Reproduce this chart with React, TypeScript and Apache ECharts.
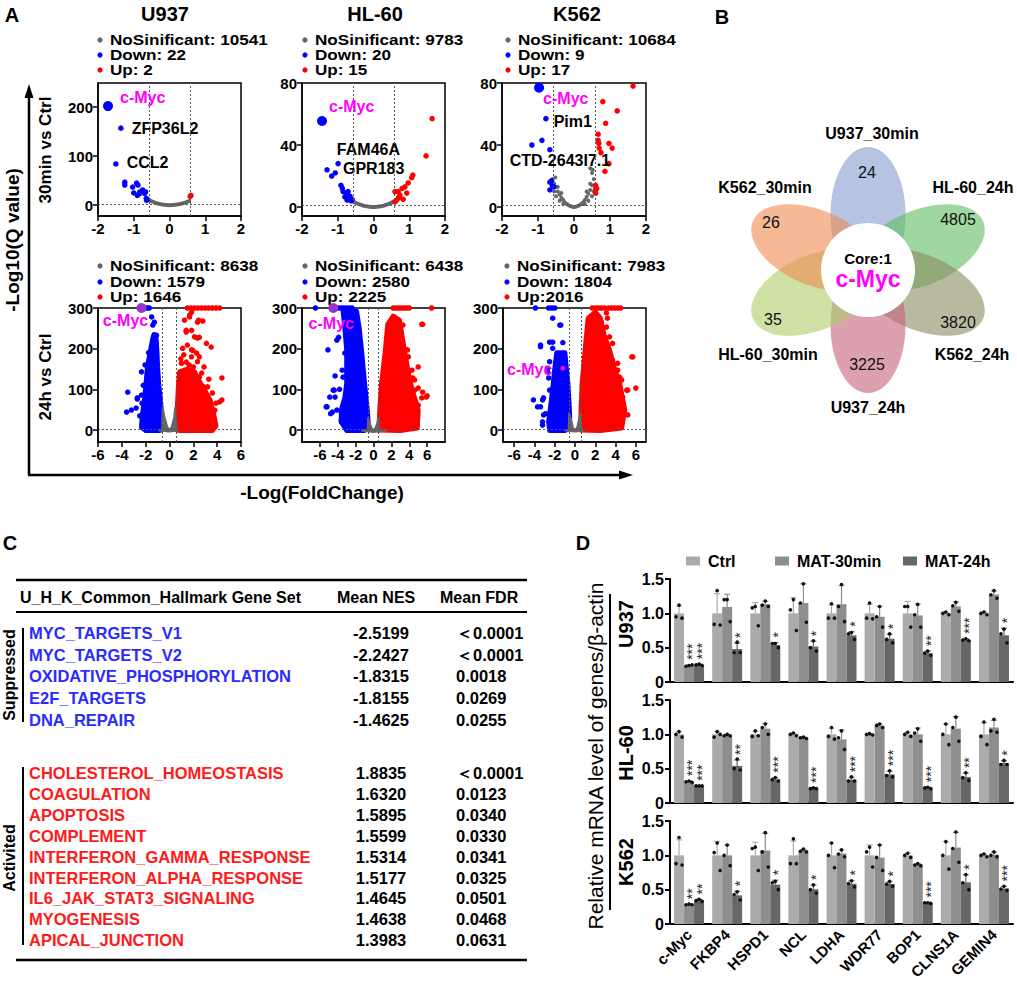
import React, { useEffect, useRef } from 'react';
import * as echarts from 'echarts';

const FONT = '"Liberation Sans", Arial, Helvetica, sans-serif';
const W = 1017;
const H = 984;

// ================= Panel A data =================
const cellLines = ['U937', 'HL-60', 'K562'];
const noSigCounts = [10541, 9783, 10684, 8638, 6438, 7983];
const downCounts = [22, 20, 9, 1579, 2580, 1804];
const upCounts = [2, 15, 17, 1646, 2225, 2016];

const topXTicks = [-2, -1, 0, 1, 2];
const bottomXTicks = [-6, -4, -2, 0, 2, 4, 6];
const u937TopYTicks = [0, 100, 200];
const topYTicks = [0, 40, 80];
const bottomYTicks = [0, 100, 200, 300];
const fcCut = 0.585;
const qCut = 1.3;

// U937 30min
const u937_30_grey = [[-0.62, 13], [-0.58, 11], [-0.55, 10], [-0.5, 8], [-0.45, 6.5], [-0.4, 5], [-0.35, 4], [-0.3, 3], [-0.25, 2.2], [-0.2, 1.5], [-0.15, 0.9], [-0.1, 0.5], [-0.05, 0.2], [0, 0], [0.05, 0.2], [0.1, 0.5], [0.15, 0.9], [0.2, 1.4], [0.25, 2], [0.3, 2.7], [0.35, 3.5], [0.4, 4.5], [0.45, 5.5], [0.5, 7], [0.55, 8.5]];
const u937_30_down = [[-1.25, 47], [-1.25, 41], [-1.03, 37], [-0.92, 45], [-0.88, 41], [-1.0, 25], [-0.9, 20], [-0.83, 27], [-0.75, 31], [-0.67, 27], [-0.64, 10], [-0.65, 14], [-0.7, 24], [-0.85, 23], [-0.62, 12]];
const u937_30_up = [[0.6, 20], [0.58, 18]];
const u937_30_myc = [[-1.72, 202]];
const u937_30_named = [['ZFP36L2', -1.36, 157], ['CCL2', -1.5, 84]];

// HL-60 30min
const hl60_30_grey = [[-0.6, 4], [-0.55, 3.3], [-0.5, 2.8], [-0.45, 2.3], [-0.4, 1.8], [-0.35, 1.4], [-0.3, 1], [-0.25, 0.7], [-0.2, 0.5], [-0.15, 0.3], [-0.1, 0.15], [-0.05, 0.05], [0, 0], [0.05, 0.05], [0.1, 0.15], [0.15, 0.3], [0.2, 0.5], [0.25, 0.7], [0.3, 1], [0.35, 1.4], [0.4, 1.8], [0.45, 2.3], [0.5, 2.8], [0.55, 3.5]];
const hl60_30_down = [[-1.3, 24], [-1.17, 20], [-0.91, 14], [-0.85, 10], [-0.87, 12], [-0.77, 9], [-0.71, 10], [-0.8, 6.5], [-0.68, 5.5], [-0.63, 4], [-0.74, 4.5], [-0.6, 5], [-0.66, 7]];
const hl60_30_up = [[1.64, 57], [1.47, 33], [1.1, 20.6], [1.07, 19], [0.97, 15.5], [0.88, 13], [0.8, 12], [0.69, 10], [0.6, 10], [0.93, 9], [0.74, 7.7], [0.65, 4.5], [0.6, 3.3], [0.83, 5], [0.7, 6]];
const hl60_30_myc = [[-1.44, 55.5]];
const hl60_30_named = [['FAM46A', -0.99, 28], ['GPR183', -1.07, 22]];

// K562 30min
const k562_30_grey = [[-0.6, 18], [-0.55, 15], [-0.5, 13], [-0.45, 10], [-0.4, 8], [-0.35, 6], [-0.3, 4.5], [-0.25, 3], [-0.2, 2], [-0.15, 1.2], [-0.1, 0.6], [-0.05, 0.2], [0, 0], [0.05, 0.2], [0.1, 0.6], [0.15, 1.2], [0.2, 2], [0.25, 3], [0.3, 4.5], [0.35, 6.5], [0.4, 8.5], [0.45, 11], [0.5, 14], [0.55, 18], [0.5, 22], [0.45, 25], [-0.55, 10], [-0.5, 7], [-0.4, 4], [0.4, 4], [0.5, 7], [0.55, 10], [-0.45, 13], [0.45, 15], [-0.3, 2], [0.3, 2], [-0.6, 13], [0.58, 12], [-0.52, 19], [0.52, 24], [-0.35, 9], [0.35, 10]];
const k562_30_down = [[-1.17, 40], [-0.89, 43], [-0.67, 16], [-0.6, 14], [-0.67, 11], [-0.56, 13], [-0.62, 17]];
const k562_30_up = [[1.64, 78], [0.8, 68], [1.2, 62], [0.88, 54], [0.67, 47], [0.67, 43], [0.69, 41], [0.7, 38], [0.97, 41], [1.06, 38], [0.75, 35], [0.97, 28], [0.86, 23], [0.6, 14], [0.6, 11], [0.63, 12], [0.6, 9]];
const k562_30_myc = [[-0.97, 77]];
const k562_30_named = [['Pim1', -0.78, 57], ['CTD-2643I7.1', -0.67, 37]];

// U937 24h
const u937_24_greyEnv = [[-0.85, -1], [-0.62, 0], [-0.58, 54], [-0.42, 32], [-0.2, 8], [0, 0], [0.2, 8], [0.4, 32], [0.47, 54], [0.62, 0], [0.67, -1], [0, -4]];
const u937_24_downEnv = [[-1.3, 235], [-1.15, 233], [-1.05, 190], [-1.0, 155], [-0.9, 110], [-0.76, 74], [-0.65, 30], [-0.6, 5], [-0.8, -1], [-2.0, -1], [-2.35, 7], [-2.3, 30], [-2.1, 74], [-1.95, 120], [-1.85, 155], [-1.6, 195], [-1.4, 225]];
const u937_24_down = [[-3.6, 44], [-3.2, 49], [-3.5, 93], [-2.7, 76], [-2.35, 86], [-2.3, 66], [-2.35, 143], [-2.0, 49], [-1.7, 300], [-1.5, 278], [-1.4, 258], [-1.27, 265], [-1.2, 228], [-1.1, 233], [-1.9, 300], [-2.5, 35], [-2.8, 54], [-2.7, 79], [-2.35, 37], [-1.26, 226], [-1.1, 213], [-2.2, 110], [-2.05, 160], [-1.75, 190]];
const u937_24_upEnv = [[0.6, 0], [0.65, 50], [0.75, 110], [0.85, 143], [1.5, 150], [2.1, 143], [2.5, 120], [3.0, 95], [3.4, 74], [3.7, 40], [3.9, 10], [3.6, -1], [0.8, -1]];
const u937_24_up = [[1.5, 300], [1.8, 300], [2.1, 300], [2.4, 300], [2.7, 300], [3.0, 300], [3.3, 300], [3.6, 300], [3.9, 300], [4.2, 300], [1.68, 278], [1.85, 290], [2.44, 270], [2.8, 268], [1.4, 245], [1.85, 245], [2.5, 228], [2.36, 226], [3.1, 213], [1.1, 201], [1.5, 209], [1.95, 196], [2.27, 189], [1.85, 180], [2.5, 180], [1.0, 164], [1.4, 167], [2.0, 155], [4.4, 128], [4.2, 69], [3.9, 66], [3.6, 91], [3.36, 66], [3.2, 44], [3.1, 20], [2.77, 91], [2.5, 130], [2.86, 106], [1.26, 270], [1.7, 283], [2.35, 265], [1.4, 241], [2.1, 229], [1.85, 197], [2.35, 168], [3.5, 204], [2.9, 155], [3.2, 106], [4.4, 74], [3.8, 49], [3.4, 37], [1.2, 185], [0.95, 175], [1.65, 160], [2.7, 140], [3.3, 125]];
const u937_24_myc = [[-2.35, 300]];

// HL-60 24h
const hl60_24_greyEnv = [[-1.3, -1], [-0.65, 0], [-0.6, 30], [-0.45, 18], [-0.2, 4], [0, 0], [0.2, 4], [0.45, 18], [0.55, 30], [0.62, 0], [1.4, -1], [0, -5]];
const hl60_24_downEnv = [[-3.4, 292], [-1.9, 292], [-1.6, 250], [-1.35, 197], [-1.0, 115], [-0.7, 49], [-0.55, 5], [-1.0, -1], [-3.0, -1], [-3.6, 20], [-3.6, 49], [-3.2, 80], [-3.0, 115], [-3.0, 197], [-3.2, 250]];
const hl60_24_down = [[-6.5, 300], [-4.2, 300], [-3.9, 300], [-3.6, 300], [-3.3, 300], [-3.0, 300], [-2.7, 300], [-2.4, 300], [-5.1, 197], [-4.1, 221], [-4.3, 133], [-3.4, 130], [-4.5, 98], [-5.2, 57], [-4.3, 81], [-3.6, 20], [-4.1, 49], [-3.0, 37], [-3.9, 228], [-4.8, 40], [-3.2, 189], [-3.5, 147], [-4.4, 98], [-4.9, 81], [-5.3, 57], [-4.6, 44], [-3.6, 25], [-2.7, 270], [-2.3, 245], [-2.9, 221], [-3.8, 100], [-3.4, 60]];
const hl60_24_upEnv = [[0.6, 0], [0.7, 49], [0.9, 115], [1.3, 190], [1.6, 260], [2.2, 280], [2.9, 270], [3.2, 230], [3.5, 190], [3.9, 140], [4.3, 100], [5.0, 49], [4.9, 5], [3.0, -1]];
const hl60_24_up = [[2.2, 300], [2.5, 300], [2.8, 300], [3.1, 300], [3.4, 300], [3.7, 300], [4.0, 300], [6.5, 300], [5.5, 260], [5.0, 155], [6.0, 84], [4.6, 98], [5.4, 79], [5.0, 61], [4.4, 128], [3.9, 180], [4.2, 40], [2.6, 270], [3.3, 258], [1.6, 245], [2.9, 238], [2.1, 221], [3.3, 205], [3.8, 197], [1.8, 189], [2.9, 177], [3.7, 155], [4.3, 147], [4.6, 123], [5.0, 103], [5.5, 93], [5.9, 81], [5.4, 260]];
const hl60_24_myc = [[-4.5, 300]];

// K562 24h
const k562_24_greyEnv = [[-0.9, -1], [-0.62, 0], [-0.58, 42], [-0.4, 25], [-0.2, 5], [0, 0], [0.2, 5], [0.4, 25], [0.55, 42], [0.62, 0], [0.9, -1], [0, -4]];
const k562_24_downEnv = [[-1.8, 190], [-1.0, 190], [-0.85, 150], [-0.7, 115], [-0.55, 49], [-0.5, 5], [-1.0, -1], [-2.5, -1], [-2.6, 20], [-2.45, 49], [-2.2, 100], [-2.0, 150]];
const k562_24_down = [[-3.9, 300], [-2.6, 300], [-2.3, 300], [-2.0, 300], [-2.2, 275], [-1.4, 258], [-3.4, 205], [-2.5, 216], [-2.2, 201], [-2.6, 128], [-3.4, 57], [-4.1, 74], [-3.1, 79], [-3.2, 20], [-2.5, 98], [-2.7, 152], [-2.9, 40], [-3.4, 209], [-2.2, 216], [-1.5, 258], [-2.5, 168], [-2.7, 143], [-3.2, 74], [-3.7, 57], [-3.1, 37], [-3.2, 12], [-1.2, 215]];
const k562_24_upEnv = [[0.55, 0], [0.6, 49], [0.7, 115], [1.0, 197], [1.3, 275], [2.0, 290], [2.5, 275], [2.9, 230], [3.4, 197], [3.9, 150], [4.4, 115], [4.9, 49], [4.6, 5], [2.5, -1]];
const k562_24_up = [[1.7, 300], [2.0, 300], [2.3, 300], [2.6, 300], [2.9, 300], [3.3, 300], [3.6, 300], [3.9, 300], [4.2, 300], [4.5, 300], [5.7, 180], [5.1, 98], [4.4, 130], [4.2, 69], [3.9, 148], [4.2, 164], [3.2, 275], [3.1, 288], [2.6, 265], [5.2, 37], [4.7, 44], [4.4, 79], [3.7, 213], [2.5, 270], [3.1, 253], [2.1, 238], [3.4, 229], [2.8, 205], [3.7, 172], [4.2, 147], [4.6, 123], [4.7, 81], [4.2, 57], [5.6, 180], [6.0, 103], [5.2, 98]];
const k562_24_myc = [[-1.2, 152]];

// ================= Panel B data =================
const vennSets = ['U937_30min', 'HL-60_24h', 'K562_24h', 'U937_24h', 'HL-60_30min', 'K562_30min'];
const vennCounts = [24, 4805, 3820, 3225, 35, 26];
const vennCore = 1;
const vennCoreGene = 'c-Myc';

// ================= Panel C data =================
const tableHeader = ['U_H_K_Common_Hallmark Gene Set', 'Mean NES', 'Mean FDR'];
const suppressedSets = ['MYC_TARGETS_V1', 'MYC_TARGETS_V2', 'OXIDATIVE_PHOSPHORYLATION', 'E2F_TARGETS', 'DNA_REPAIR'];
const suppressedNES = ['-2.5199', '-2.2427', '-1.8315', '-1.8155', '-1.4625'];
const suppressedFDR = ['＜0.0001', '＜0.0001', '0.0018', '0.0269', '0.0255'];
const activatedSets = ['CHOLESTEROL_HOMEOSTASIS', 'COAGULATION', 'APOPTOSIS', 'COMPLEMENT', 'INTERFERON_GAMMA_RESPONSE', 'INTERFERON_ALPHA_RESPONSE', 'IL6_JAK_STAT3_SIGNALING', 'MYOGENESIS', 'APICAL_JUNCTION'];
const activatedNES = ['1.8835', '1.6320', '1.5895', '1.5599', '1.5314', '1.5177', '1.4645', '1.4638', '1.3983'];
const activatedFDR = ['＜0.0001', '0.0123', '0.0340', '0.0330', '0.0341', '0.0325', '0.0501', '0.0468', '0.0631'];

// ================= Panel D data =================
const genes = ['c-Myc', 'FKBP4', 'HSPD1', 'NCL', 'LDHA', 'WDR77', 'BOP1', 'CLNS1A', 'GEMIN4'];
const groups = ['Ctrl', 'MAT-30min', 'MAT-24h'];
const dCells = ['U937', 'HL-60', 'K562'];
const dYTicks = [0, 0.5, 1.0, 1.5];
// replicates per gene: [Ctrl, MAT-30min, MAT-24h]
const u937Reps = [
  [[1.12, 0.95, 0.93], [0.24, 0.23, 0.25], [0.26, 0.25, 0.24]],
  [[1.33, 0.84, 0.83], [1.2, 1.2, 0.88], [0.58, 0.43, 0.43]],
  [[1.1, 1.08, 0.82], [1.18, 1.12, 1.1], [0.56, 0.56, 0.5]],
  [[1.2, 1.05, 0.75], [1.43, 1.15, 0.87], [0.6, 0.5, 0.45]],
  [[1.14, 0.93, 0.93], [1.42, 1.1, 0.88], [0.72, 0.7, 0.62]],
  [[1.15, 0.93, 0.92], [1.1, 0.95, 0.8], [0.7, 0.62, 0.57]],
  [[1.1, 1.1, 0.8], [1.13, 0.98, 0.8], [0.45, 0.42, 0.39]],
  [[1.02, 1.0, 0.98], [1.16, 1.11, 1.03], [0.63, 0.61, 0.6]],
  [[1.02, 1.0, 0.98], [1.33, 1.27, 1.22], [0.77, 0.7, 0.57]],
];
const hl60Reps = [
  [[1.04, 1.0, 0.96], [0.32, 0.31, 0.3], [0.25, 0.25, 0.25]],
  [[1.04, 0.96, 1.0], [1.0, 0.98, 0.98], [0.64, 0.5, 0.48]],
  [[1.05, 0.97, 0.98], [1.15, 1.1, 1.0], [0.37, 0.34, 0.32]],
  [[1.02, 1.0, 0.98], [0.96, 0.95, 0.94], [0.22, 0.21, 0.21]],
  [[1.1, 0.97, 0.93], [1.05, 0.95, 0.78], [0.38, 0.32, 0.32]],
  [[1.01, 1.0, 0.99], [1.15, 1.13, 1.1], [0.47, 0.4, 0.38]],
  [[1.03, 1.0, 0.97], [1.08, 1.02, 0.9], [0.23, 0.22, 0.21]],
  [[1.15, 1.0, 0.85], [1.25, 1.1, 0.9], [0.44, 0.37, 0.33]],
  [[1.18, 0.97, 0.85], [1.22, 1.05, 1.03], [0.62, 0.56, 0.56]],
];
const k562Reps = [
  [[1.26, 0.88, 0.86], [0.29, 0.28, 0.28], [0.36, 0.34, 0.33]],
  [[1.18, 1.04, 0.78], [1.15, 1.0, 0.85], [0.47, 0.43, 0.35]],
  [[1.12, 1.1, 0.78], [1.33, 1.05, 0.83], [0.62, 0.6, 0.5]],
  [[1.24, 0.88, 0.88], [1.09, 1.06, 1.05], [0.57, 0.5, 0.45]],
  [[1.18, 1.0, 0.82], [1.08, 1.02, 0.98], [0.63, 0.59, 0.54]],
  [[1.12, 1.05, 0.83], [1.15, 0.97, 0.78], [0.62, 0.58, 0.55]],
  [[1.03, 1.0, 0.97], [0.88, 0.86, 0.85], [0.31, 0.31, 0.3]],
  [[1.2, 1.0, 0.8], [1.34, 1.1, 0.9], [0.72, 0.6, 0.5]],
  [[1.02, 1.0, 0.98], [1.05, 1.0, 0.98], [0.55, 0.51, 0.49]],
];
const u937Sig = [['', '***', '***'], ['', '', '*'], ['', '', '*'], ['', '', '*'], ['', '', '*'], ['', '', '*'], ['', '', '**'], ['', '', '***'], ['', '', '*']];
const hl60Sig = [['', '***', '***'], ['', '', '**'], ['', '', '***'], ['', '', '***'], ['', '', '***'], ['', '', '***'], ['', '', '***'], ['', '', '**'], ['', '', '*']];
const k562Sig = [['', '**', '**'], ['', '', '*'], ['', '', '*'], ['', '', '*'], ['', '', '*'], ['', '', '*'], ['', '', '***'], ['', '', '*'], ['', '', '***']];

// ================= styles / layout =================
const GREY = '#666666';
const BLUE = '#0000ff';
const RED = '#ff0000';
const MAGENTA = '#ff00ff';
const PURPLE = '#9933cc';
const BAR_COLORS = ['#ababab', '#8e8e8e', '#676767'];
const BAR_W = 10;
const DOT_DX = [0, -3, 3];

const A_LAYOUT = [
  { left: 98, top: 83, width: 143, height: 133, xMin: -2, xMax: 2, xTicks: topXTicks, yMin: -22, yMax: 249, yTicks: u937TopYTicks },
  { left: 302, top: 83, width: 143, height: 133, xMin: -2, xMax: 2, xTicks: topXTicks, yMin: -5.8, yMax: 80, yTicks: topYTicks },
  { left: 502, top: 83, width: 144, height: 133, xMin: -2, xMax: 2, xTicks: topXTicks, yMin: -5.8, yMax: 80, yTicks: topYTicks },
  { left: 98, top: 308, width: 143, height: 134, xMin: -6, xMax: 6, xTicks: bottomXTicks, yMin: -29.5, yMax: 300, yTicks: bottomYTicks },
  { left: 302, top: 308, width: 143, height: 134, xMin: -8, xMax: 8, xTicks: bottomXTicks, yMin: -29.5, yMax: 300, yTicks: bottomYTicks },
  { left: 503, top: 308, width: 143, height: 134, xMin: -7.1, xMax: 7.0, xTicks: bottomXTicks, yMin: -29.5, yMax: 300, yTicks: bottomYTicks },
];

const LABEL_POS: Record<string, { position: string; offset: number[] }> = {
  '0:c-Myc': { position: 'right', offset: [2, -9] },
  '0:ZFP36L2': { position: 'right', offset: [3, 0] },
  '0:CCL2': { position: 'right', offset: [3, -1] },
  '1:c-Myc': { position: 'right', offset: [-3, -14] },
  '1:FAM46A': { position: 'right', offset: [-9, -14] },
  '1:GPR183': { position: 'right', offset: [0, -4] },
  '2:c-Myc': { position: 'right', offset: [-6, 11] },
  '2:Pim1': { position: 'right', offset: [0, 3] },
  '2:CTD-2643I7.1': { position: 'bottom', offset: [10, -5] },
  '3:c-Myc': { position: 'bottom', offset: [-16, -6] },
  '4:c-Myc': { position: 'bottom', offset: [-2, -3] },
  '5:c-Myc': { position: 'left', offset: [-3, 1] },
};

const mean = (a: number[]) => a.reduce((s, v) => s + v, 0) / a.length;
const sd = (a: number[]) => {
  const m = mean(a);
  return Math.sqrt(a.reduce((s, v) => s + (v - m) * (v - m), 0) / (a.length - 1));
};

function txt(x: number, y: number, text: string, opts: any = {}) {
  const { size = 15, weight = 'bold', color = '#000', align = 'left', valign = 'middle', rotation = 0, scaleX = 1 } = opts;
  return {
    type: 'text',
    x,
    y,
    rotation,
    scaleX,
    silent: true,
    style: {
      text,
      fill: color,
      font: `${weight} ${size}px ${FONT}`,
      align,
      textAlign: align,
      verticalAlign: valign,
      textVerticalAlign: valign,
    },
  };
}

function polygonSeries(idx: number, pts: number[][], color: string, z = 2, edge = 4) {
  return {
    type: 'custom',
    xAxisIndex: idx,
    yAxisIndex: idx,
    data: pts,
    silent: true,
    clip: true,
    z,
    renderItem: (params: any, api: any) => {
      if (params.dataIndex !== 0) return null;
      return {
        type: 'polygon',
        shape: { points: pts.map((p) => api.coord(p)) },
        style: { fill: color, stroke: color, lineWidth: edge, lineJoin: 'round' },
      };
    },
  };
}

function scatterSeries(idx: number, data: any[], color: string, size: number, z = 3, extra: any = {}) {
  return {
    type: 'scatter',
    xAxisIndex: idx,
    yAxisIndex: idx,
    data,
    symbolSize: size,
    itemStyle: { color, opacity: 1 },
    silent: true,
    clip: true,
    z,
    ...extra,
  };
}

function labelItem(idx: number, name: string, x: number, y: number, color: string) {
  const p = LABEL_POS[`${idx}:${name}`] || { position: 'right', offset: [0, 0] };
  return {
    value: [x, y],
    label: {
      show: true,
      formatter: name,
      position: p.position,
      offset: p.offset,
      color,
      fontWeight: 'bold',
      fontSize: 16,
      fontFamily: FONT,
    },
  };
}

function volcanoSeries(idx: number, v: any) {
  const out: any[] = [];
  const dash = {
    silent: true,
    symbol: ['none', 'none'],
    label: { show: false },
    lineStyle: { type: [2, 2], color: '#555', width: 1 },
    data: [{ xAxis: -fcCut }, { xAxis: fcCut }, { yAxis: qCut }],
  };
  if (v.downEnv) out.push(polygonSeries(idx, v.downEnv, BLUE, 2, 5));
  if (v.upEnv) out.push(polygonSeries(idx, v.upEnv, RED, 2, 5));
  if (v.greyEnv) out.push(polygonSeries(idx, v.greyEnv, GREY, 2, 2));
  if (v.grey) out.push(scatterSeries(idx, v.grey, GREY, 4, 2));
  out.push(scatterSeries(idx, v.down, BLUE, 5.5, 3, { markLine: dash }));
  out.push(scatterSeries(idx, v.up, RED, 5.5, 3));
  if (v.named && v.named.length) {
    out.push(scatterSeries(idx, v.named.map((n: any) => labelItem(idx, n[0], n[1], n[2], '#000')), BLUE, 5.5, 4));
  }
  out.push(scatterSeries(idx, v.myc.map((p: number[]) => labelItem(idx, 'c-Myc', p[0], p[1], MAGENTA)), v.mycColor, v.mycSize, 5));
  return out;
}

function barExtras(idx: number, reps: number[][][], sig: string[][]) {
  const data: any[] = [];
  reps.forEach((gene, k) =>
    gene.forEach((r, g) => {
      data.push([k, mean(r), g, sd(r), r[0], r[1], r[2]]);
    })
  );
  return {
    type: 'custom',
    xAxisIndex: idx,
    yAxisIndex: idx,
    data,
    encode: { x: 0, y: 1 },
    silent: true,
    z: 5,
    clip: false,
    renderItem: (params: any, api: any) => {
      const k = api.value(0);
      const m = api.value(1);
      const g = api.value(2);
      const s = api.value(3);
      const base = api.coord([k, m]);
      const cx = base[0] + (g - 1) * BAR_W;
      const yTop = api.coord([k, m + s])[1];
      const col = BAR_COLORS[g];
      const children: any[] = [
        { type: 'line', shape: { x1: cx, y1: base[1], x2: cx, y2: yTop }, style: { stroke: col, lineWidth: 1.2 } },
        { type: 'line', shape: { x1: cx - 3, y1: yTop, x2: cx + 3, y2: yTop }, style: { stroke: col, lineWidth: 1.2 } },
      ];
      [4, 5, 6].forEach((d, j) => {
        const p = api.coord([k, api.value(d)]);
        children.push({ type: 'circle', shape: { cx: cx + DOT_DX[j], cy: p[1], r: 1.8 }, style: { fill: '#111' } });
      });
      const star = sig[k][g];
      if (star) {
        children.push({
          type: 'text',
          x: cx + 3,
          y: yTop - 5,
          rotation: Math.PI / 2,
          style: {
            text: star,
            fill: '#222',
            font: `14px ${FONT}`,
            align: 'left',
            textAlign: 'left',
            verticalAlign: 'middle',
            textVerticalAlign: 'middle',
          },
        });
      }
      return { type: 'group', children };
    },
  };
}

function buildOption() {
  const grid: any[] = [];
  const xAxis: any[] = [];
  const yAxis: any[] = [];
  const series: any[] = [];
  const graphic: any[] = [];
  const axisFont = { color: '#000', fontWeight: 'bold', fontSize: 15, fontFamily: FONT };

  // ----- Panel A grids -----
  A_LAYOUT.forEach((g, i) => {
    grid.push({ left: g.left, top: g.top, width: g.width, height: g.height, show: true, borderColor: '#000', borderWidth: 1.5, backgroundColor: 'transparent' });
    xAxis.push({
      gridIndex: i,
      type: 'value',
      min: g.xMin,
      max: g.xMax,
      axisLine: { show: true, onZero: false, lineStyle: { color: '#000', width: 1.5 } },
      axisTick: { show: true, length: 5, customValues: g.xTicks, lineStyle: { color: '#000', width: 1.5 } },
      axisLabel: { ...axisFont, margin: 5, customValues: g.xTicks },
      splitLine: { show: false },
    });
    yAxis.push({
      gridIndex: i,
      type: 'value',
      min: g.yMin,
      max: g.yMax,
      axisLine: { show: true, onZero: false, lineStyle: { color: '#000', width: 1.5 } },
      axisTick: { show: true, length: 5, customValues: g.yTicks, lineStyle: { color: '#000', width: 1.5 } },
      axisLabel: { ...axisFont, margin: 5, customValues: g.yTicks },
      splitLine: { show: false },
    });
  });

  const vsets = [
    { grey: u937_30_grey, down: u937_30_down, up: u937_30_up, myc: u937_30_myc, named: u937_30_named, mycColor: BLUE, mycSize: 10 },
    { grey: hl60_30_grey, down: hl60_30_down, up: hl60_30_up, myc: hl60_30_myc, named: hl60_30_named, mycColor: BLUE, mycSize: 10 },
    { grey: k562_30_grey, down: k562_30_down, up: k562_30_up, myc: k562_30_myc, named: k562_30_named, mycColor: BLUE, mycSize: 10 },
    { greyEnv: u937_24_greyEnv, downEnv: u937_24_downEnv, down: u937_24_down, upEnv: u937_24_upEnv, up: u937_24_up, myc: u937_24_myc, named: [], mycColor: PURPLE, mycSize: 10 },
    { greyEnv: hl60_24_greyEnv, downEnv: hl60_24_downEnv, down: hl60_24_down, upEnv: hl60_24_upEnv, up: hl60_24_up, myc: hl60_24_myc, named: [], mycColor: PURPLE, mycSize: 10 },
    { greyEnv: k562_24_greyEnv, downEnv: k562_24_downEnv, down: k562_24_down, upEnv: k562_24_upEnv, up: k562_24_up, myc: k562_24_myc, named: [], mycColor: MAGENTA, mycSize: 5 },
  ];
  vsets.forEach((v, i) => series.push(...volcanoSeries(i, v)));

  // ----- Panel D grids -----
  const dTops = [579, 700, 821];
  const dReps = [u937Reps, hl60Reps, k562Reps];
  const dSig = [u937Sig, hl60Sig, k562Sig];
  dTops.forEach((top, j) => {
    const idx = 6 + j;
    grid.push({ left: 670, top, width: 343, height: 103 });
    xAxis.push({
      gridIndex: idx,
      type: 'category',
      data: genes,
      axisLine: { lineStyle: { color: '#000', width: 2 } },
      axisTick: { alignWithLabel: true, length: 5, lineStyle: { color: '#000', width: 2 } },
      axisLabel: j === 2 ? { rotate: 45, interval: 0, margin: 8, color: '#000', fontWeight: 'bold', fontSize: 15, fontFamily: FONT } : { show: false },
    });
    yAxis.push({
      gridIndex: idx,
      type: 'value',
      min: 0,
      max: 1.5,
      interval: 0.5,
      axisLine: { show: true, lineStyle: { color: '#000', width: 2 } },
      axisTick: { show: true, length: 5, lineStyle: { color: '#000', width: 2 } },
      axisLabel: {
        color: '#000',
        fontWeight: 'bold',
        fontSize: 16,
        fontFamily: FONT,
        margin: 6,
        customValues: dYTicks,
        formatter: (v: number) => (v === 0 ? '0' : v.toFixed(1)),
      },
      splitLine: { show: false },
    });
    groups.forEach((gname, g) => {
      series.push({
        type: 'bar',
        name: gname,
        xAxisIndex: idx,
        yAxisIndex: idx,
        data: dReps[j].map((gene) => mean(gene[g])),
        barWidth: BAR_W,
        barGap: '0%',
        itemStyle: { color: BAR_COLORS[g] },
        silent: true,
        z: 2,
      });
    });
    series.push(barExtras(idx, dReps[j], dSig[j]));
  });

  const legendX = [686, 775, 903];
  const legend = groups.map((gname, g) => ({
    data: [gname],
    left: legendX[g],
    top: 553,
    padding: 0,
    itemWidth: 14,
    itemHeight: 9,
    icon: 'rect',
    selectedMode: false,
    textStyle: { color: '#000', fontWeight: 'bold', fontSize: 16, fontFamily: FONT, padding: [0, 0, 0, 3] },
  }));

  // ----- Panel A graphics -----
  graphic.push(txt(12, 15, 'A', { size: 20, align: 'center' }));
  const titleX = [165, 375, 577];
  cellLines.forEach((c, i) => graphic.push(txt(titleX[i], 14, c, { size: 20, align: 'center' })));
  const legDotX = [100, 305, 508, 100, 305, 507];
  A_LAYOUT.forEach((g, i) => {
    const ys = i < 3 ? [39, 54, 69] : [265, 281, 296];
    const items: [string, string][] = [
      [GREY, `NoSinificant: ${noSigCounts[i]}`],
      [BLUE, `Down: ${downCounts[i]}`],
      [RED, i === 5 ? `Up:${upCounts[i]}` : `Up: ${upCounts[i]}`],
    ];
    items.forEach(([col, t], r) => {
      graphic.push({ type: 'circle', silent: true, shape: { cx: legDotX[i], cy: ys[r] + 1, r: 2.6 }, style: { fill: col } });
      graphic.push(txt(legDotX[i] + 10, ys[r], t, { size: 15, scaleX: 1.14 }));
    });
  });
  // axis arrows
  graphic.push({ type: 'line', silent: true, shape: { x1: 29, y1: 475, x2: 29, y2: 95 }, style: { stroke: '#000', lineWidth: 2.5 } });
  graphic.push({ type: 'polygon', silent: true, shape: { points: [[29, 84], [24.5, 98], [33.5, 98]] }, style: { fill: '#000' } });
  graphic.push({ type: 'line', silent: true, shape: { x1: 28, y1: 475, x2: 620, y2: 475 }, style: { stroke: '#000', lineWidth: 2.5 } });
  graphic.push({ type: 'polygon', silent: true, shape: { points: [[633, 475], [619, 470.5], [619, 479.5]] }, style: { fill: '#000' } });
  graphic.push(txt(12, 240, '-Log10(Q value)', { size: 19, align: 'center', rotation: Math.PI / 2 }));
  graphic.push(txt(322, 492, '-Log(FoldChange)', { size: 19, align: 'center' }));
  graphic.push(txt(45, 150, '30min vs Ctrl', { size: 17, align: 'center', rotation: Math.PI / 2 }));
  graphic.push(txt(45, 377, '24h vs Ctrl', { size: 17, align: 'center', rotation: Math.PI / 2 }));

  // ----- Panel B (Venn flower) -----
  graphic.push(txt(722, 17, 'B', { size: 20, align: 'center' }));
  const cx = 868;
  const cy = 270;
  const petalAngles = [90, 23, -23, -90, 203, 157];
  const petalColors = ['rgba(135,155,208,0.6)', 'rgba(97,188,97,0.6)', 'rgba(138,138,97,0.6)', 'rgba(197,97,122,0.6)', 'rgba(172,205,105,0.6)', 'rgba(238,138,80,0.6)'];
  petalAngles.forEach((ang, i) => {
    const vertical = Math.abs(ang) === 90;
    const d = vertical ? 55 : 57;
    const a = vertical ? 68 : 68;
    const b = 37.5;
    const rad = (ang * Math.PI) / 180;
    graphic.push({
      type: 'ellipse',
      silent: true,
      x: cx + d * Math.cos(rad),
      y: cy - d * Math.sin(rad),
      rotation: rad,
      shape: { cx: 0, cy: 0, rx: a, ry: b },
      style: { fill: petalColors[i] },
    });
  });
  graphic.push({ type: 'circle', silent: true, shape: { cx, cy, r: 47 }, style: { fill: '#fff' } });
  const countPos = [[867, 172], [958, 219], [958, 322], [867, 364], [773, 319], [771, 222]];
  const labelPos = [[872, 133], [973, 187], [972, 354], [868, 407], [768, 354], [765, 187]];
  vennSets.forEach((s, i) => {
    graphic.push(txt(countPos[i][0], countPos[i][1], String(vennCounts[i]), { size: 16, weight: 'normal', align: 'center', color: '#111' }));
    graphic.push(txt(labelPos[i][0], labelPos[i][1], s, { size: 16, align: 'center' }));
  });
  graphic.push(txt(cx, 258, `Core:${vennCore}`, { size: 15, align: 'center' }));
  graphic.push(txt(cx, 279, vennCoreGene, { size: 23, align: 'center', color: MAGENTA }));

  // ----- Panel C (table) -----
  graphic.push(txt(10, 543, 'C', { size: 20, align: 'center' }));
  const tL = 16;
  const tR = 527;
  graphic.push({ type: 'line', silent: true, shape: { x1: tL, y1: 580, x2: tR, y2: 580 }, style: { stroke: '#000', lineWidth: 2.5 } });
  graphic.push({ type: 'line', silent: true, shape: { x1: tL, y1: 612, x2: tR, y2: 612 }, style: { stroke: '#000', lineWidth: 2 } });
  graphic.push({ type: 'line', silent: true, shape: { x1: tL, y1: 960, x2: tR, y2: 960 }, style: { stroke: '#000', lineWidth: 2.5 } });
  graphic.push(txt(20, 597, tableHeader[0], { size: 16 }));
  graphic.push(txt(337, 597, tableHeader[1], { size: 16 }));
  graphic.push(txt(440, 597, tableHeader[2], { size: 16 }));
  const rowColBlue = '#2b2bff';
  const rowColRed = '#ff1a1a';
  suppressedSets.forEach((s, r) => {
    const y = 633 + r * 21.7;
    graphic.push(txt(29, y, s, { size: 16.5, color: rowColBlue }));
    graphic.push(txt(381, y, suppressedNES[r], { size: 16.5, align: 'center' }));
    graphic.push(txt(456, y, suppressedFDR[r], { size: 16.5 }));
  });
  activatedSets.forEach((s, r) => {
    const y = 773 + r * 20.9;
    graphic.push(txt(29, y, s, { size: 16.5, color: rowColRed }));
    graphic.push(txt(381, y, activatedNES[r], { size: 16.5, align: 'center' }));
    graphic.push(txt(456, y, activatedFDR[r], { size: 16.5 }));
  });
  graphic.push({ type: 'line', silent: true, shape: { x1: 23, y1: 628, x2: 23, y2: 722 }, style: { stroke: '#000', lineWidth: 2 } });
  graphic.push({ type: 'line', silent: true, shape: { x1: 23, y1: 767, x2: 23, y2: 945 }, style: { stroke: '#000', lineWidth: 2 } });
  graphic.push(txt(9, 675, 'Suppressed', { size: 16, align: 'center', rotation: Math.PI / 2 }));
  graphic.push(txt(9, 858, 'Activited', { size: 16, align: 'center', rotation: Math.PI / 2 }));

  // ----- Panel D graphics -----
  graphic.push(txt(583, 543, 'D', { size: 20, align: 'center' }));
  graphic.push(txt(595, 756, 'Relative mRNA level of genes/β-actin', { size: 21, weight: 'normal', align: 'center', rotation: Math.PI / 2 }));
  graphic.push({ type: 'line', silent: true, shape: { x1: 610, y1: 594, x2: 610, y2: 910 }, style: { stroke: '#000', lineWidth: 2 } });
  const cellY = [624, 753, 862];
  dCells.forEach((c, j) => graphic.push(txt(626, cellY[j], c, { size: 20, align: 'center', rotation: Math.PI / 2 })));

  return {
    animation: false,
    backgroundColor: '#fff',
    textStyle: { fontFamily: FONT },
    grid,
    xAxis,
    yAxis,
    legend,
    series,
    graphic: { elements: graphic },
  };
}

export default function App() {
  const ref = useRef<HTMLDivElement>(null);
  useEffect(() => {
    document.body.style.margin = '0';
    const chart = echarts.init(ref.current as HTMLDivElement, null, { renderer: 'svg' });
    chart.setOption(buildOption() as any);
    return () => chart.dispose();
  }, []);
  return <div ref={ref} style={{ width: W, height: H }} />;
}
